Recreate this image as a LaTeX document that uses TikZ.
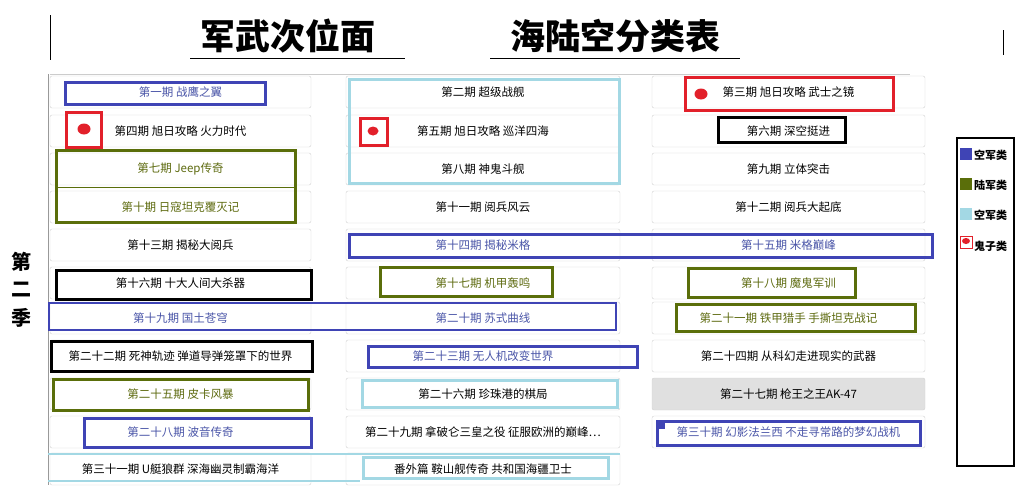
\documentclass[tikz,border=0pt]{standalone}
\usepackage{fontspec}
\setmainfont{Liberation Sans}
\newfontfamily\cjk{Noto Sans CJK SC}
\definecolor{kb}{HTML}{3F44B5}
\definecolor{kg}{HTML}{5A6E0A}
\definecolor{kl}{HTML}{A3D8E4}
\definecolor{kr}{HTML}{E2202A}
\definecolor{tb}{HTML}{4A55A8}
\definecolor{tg}{HTML}{5E6B10}
\newcommand{\mydots}{\char"2026}
\tikzset{
 btn/.style={draw=black!18,rounded corners=2pt,fill=white,minimum height=32pt,font=\cjk\fontsize{11.5}{13}\selectfont,inner sep=0pt},
 ob/.style={draw=kb,line width=3pt},
 og/.style={draw=kg,line width=3pt},
 ol/.style={draw=kl,line width=3pt},
 ok/.style={draw=black,line width=3pt},
 orr/.style={draw=kr,line width=3pt},
 dot/.style={fill=kr,ellipse,minimum width=13pt,minimum height=11pt,inner sep=0pt},
 lab/.style={font=\cjk\fontsize{11}{12}\selectfont\bfseries,anchor=west,inner sep=0pt},
 ttl/.style={font=\cjk\fontsize{35}{38}\selectfont\bfseries},
 sea/.style={font=\cjk\fontsize{20}{22}\selectfont\bfseries}
}
\usetikzlibrary{shapes.geometric}
\begin{document}
\begin{tikzpicture}[x=1pt,y=-1pt]
\useasboundingbox (0,0) rectangle (1017,485);
% title
\node[ttl] (t1) at (288,36) {军武次位面};
\node[ttl] (t2) at (615,36) {海陆空分类表};
\draw[line width=1pt] (190,58) -- (405,58) (490,58) -- (740,58);
\draw (50,15) -- (50,60) (1003,30) -- (1003,55);
\draw[black!20] (50,74) -- (910,74);
\draw[black!40] (48,74) -- (48,485);
\node[sea] (s1) at (21,262) {第};
\node[sea] (s2) at (21,290) {二};
\node[sea] (s3) at (21,318) {季};
% buttons
\def\cA{180.5}\def\cB{483}\def\cC{788.5}
\foreach \n/\x/\y/\w/\t/\c in {
 b1/\cA/92/261/第一期 战鹰之翼/tb, b2/\cB/92/274/第二期 超级战舰/black, b3/\cC/92/273/第三期 旭日攻略 武士之镜/black,
 b4/\cA/131/261/第四期 旭日攻略 火力时代/black, b5/\cB/131/274/第五期 旭日攻略 巡洋四海/black, b6/\cC/131/273/第六期 深空挺进/black,
 b7/\cA/169/261/第七期 Jeep传奇/tg, b8/\cB/169/274/第八期 神鬼斗舰/black, b9/\cC/169/273/第九期 立体突击/black,
 b10/\cA/207/261/第十期 日寇坦克覆灭记/tg, b11/\cB/207/274/第十一期 阅兵风云/black, b12/\cC/207/273/第十二期 阅兵大起底/black,
 b13/\cA/245/261/第十三期 揭秘大阅兵/black, b14/\cB/245/274/第十四期 揭秘米格/tb, b15/\cC/245/273/第十五期 米格巅峰/tb,
 b16/\cA/283/261/第十六期 十大人间大杀器/black, b17/\cB/283/274/第十七期 机甲轰鸣/tg, b18/\cC/283/273/第十八期 魔鬼军训/tg,
 b19/\cA/318/261/第十九期 国土苍穹/tb, b20/\cB/318/274/第二十期 苏式曲线/tb, b21/\cC/318/273/第二十一期 铁甲猎手 手撕坦克战记/tg,
 b22/\cA/356/261/第二十二期 死神轨迹 弹道导弹笼罩下的世界/black, b23/\cB/356/274/第二十三期 无人机改变世界/tb, b24/\cC/356/273/第二十四期 从科幻走进现实的武器/black,
 b25/\cA/394/261/第二十五期 皮卡风暴/tg, b26/\cB/394/274/第二十六期 珍珠港的棋局/black,
 b28/\cA/432/261/第二十八期 波音传奇/tb, b29/\cB/432/274/{第二十九期 拿破仑三皇之役 征服欧洲的巅峰\mydots}/black, b30/\cC/432/273/第三十期 幻影法兰西 不走寻常路的梦幻战机/tb,
 b31/\cA/469/261/第三十一期 U艇狼群 深海幽灵制霸海洋/black, b32/\cB/469/274/番外篇 鞍山舰传奇 共和国海疆卫士/black}
 \node[btn,minimum width=\w pt,text=\c] (\n) at (\x,\y) {\t};
\node[btn,minimum width=273pt,fill=black!12] (b27) at (\cC,394) {第二十七期 枪王之王AK-47};
% outlines
\draw[ob] (65,82) rectangle (265,104);
\draw[ol] (349,79) rectangle (619,183);
\draw[orr] (685,77) rectangle (893,110);
\node[dot] (d3) at (701,94) {};
\draw[orr] (66,112) rectangle (101,147); \node[dot] (d4) at (84,129) {};
\draw[orr] (360,118) rectangle (387,145); \node[dot,minimum width=11pt,minimum height=9pt] (d5) at (373,131) {};
\draw[ok] (718,117) rectangle (845,142);
\draw[og] (56,150) rectangle (295,222); \draw[kg,line width=1pt] (56,187) -- (295,187);
\draw[ob] (349,234) rectangle (932,257);
\draw[ok] (56,270) rectangle (311,299);
\draw[og] (380,267) rectangle (552,296);
\draw[og] (688,268) rectangle (855,297);
\draw[kb,line width=2pt] (49,303) rectangle (616,330);
\draw[og] (676,304) rectangle (915,331);
\draw[ok] (51,341) rectangle (312,371);
\draw[ob] (368,346) rectangle (637,367);
\draw[og] (53,379) rectangle (308,410);
\draw[ol] (362,380) rectangle (617,407);
\draw[ob] (84,418) rectangle (311,447);
\draw[ob] (657,421) rectangle (920,445); \fill[kb] (657,421) rectangle (665,429);
\draw[kl,line width=2.5pt] (48,454) -- (620,454) (48,481) -- (360,481);
\draw[ol] (363,457) rectangle (608,478);
% legend
\draw[line width=2.5pt] (957,138) rectangle (1014,466);
\fill[kb] (960,148) rectangle (972,160); \node[lab] (l1) at (974,155) {空军类};
\fill[kg] (960,178) rectangle (972,190); \node[lab] (l2) at (974,185) {陆军类};
\fill[kl] (960,208) rectangle (972,220); \node[lab] (l3) at (974,215) {空军类};
\draw[kr,fill=white] (960,236) rectangle (972,248); \fill[kr] (966,241) ellipse (4pt and 3pt);
\node[lab] (l4) at (974,246) {鬼子类};
\end{tikzpicture}
\end{document}
